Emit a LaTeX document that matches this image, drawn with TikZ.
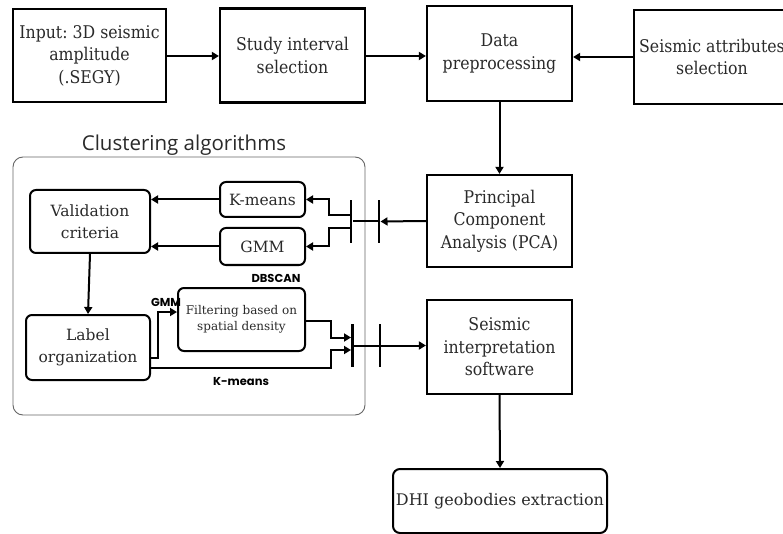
\documentclass[tikz,border=0pt]{standalone}
\usepackage{fontspec}
\setmainfont{DejaVu Serif}
\newfontfamily\condserif[FakeStretch=0.9]{DejaVu Serif}
\newfontfamily\popfont{Poppins}
\newfontfamily\osans{Open Sans}
\usetikzlibrary{arrows.meta}
\definecolor{txt}{HTML}{2A2A2A}
\frenchspacing
\tikzset{
  mainbox/.style={draw=black, line width=2.2pt, rectangle, align=center, text=txt,
    font=\condserif\fontsize{17.5}{22.5}\selectfont, inner sep=2pt},
  roundbox/.style={draw=black, line width=2pt, rectangle, rounded corners=6pt, align=center, text=txt,
    font=\fontsize{15.5}{22}\selectfont, inner sep=2pt},
  smallbox/.style={roundbox, font=\fontsize{12}{16.5}\selectfont},
  barnode/.style={rectangle, fill=black, draw=none, inner sep=0pt, minimum width=2.6pt, minimum height=43pt},
  arr/.style={line width=2pt, -{Triangle[length=7pt,width=8pt]}},
  ln/.style={line width=2pt},
  tag/.style={font=\popfont\bfseries\fontsize{11.5}{13}\selectfont, text=black, inner sep=0pt},
}
\begin{document}
\begin{tikzpicture}[x=1pt,y=-1pt]
\clip (0,0) rectangle (783,534);
\fill[white] (0,0) rectangle (783,534);
% top row
\node[mainbox, minimum width=153pt, minimum height=93pt] (inp) at (89.5,55.5) {Input: 3D seismic\\amplitude\\(.SEGY)};
\node[mainbox, minimum width=145pt, minimum height=94pt] (study) at (292.5,55.5) {Study interval\\selection};
\node[mainbox, minimum width=145pt, minimum height=95pt] (data) at (499.5,53.5) {Data\\preprocessing};
\node[mainbox, minimum width=156pt, minimum height=94pt] (seis) at (712,57) {Seismic attributes\\selection};
\node[mainbox, minimum width=145pt, minimum height=92pt] (pca) at (499.5,221) {Principal\\Component\\Analysis (PCA)};
\node[mainbox, minimum width=145pt, minimum height=94pt] (sis) at (499.5,347) {Seismic\\interpretation\\software};
\node[roundbox, rounded corners=7pt, minimum width=214pt, minimum height=64pt, font=\fontsize{16}{20}\selectfont] (dhi) at (500,501) {DHI geobodies extraction};

% cluster group
\node[draw=black!60, line width=0.9pt, rounded corners=10pt, minimum width=352pt, minimum height=258pt, inner sep=0pt] (grp) at (189,286) {};
\node[font=\osans\fontsize{20.5}{23}\selectfont, text=txt, inner sep=0pt] (title) at (184,145) {Clustering algorithms};

\node[roundbox, minimum width=120pt, minimum height=63pt] (val) at (90,221.5) {Validation\\criteria};
\node[roundbox, minimum width=85pt, minimum height=35pt] (km) at (262.5,199.5) {K-means};
\node[roundbox, minimum width=85pt, minimum height=37pt] (gmm) at (262.5,246.5) {GMM};
\node[roundbox, minimum width=124pt, minimum height=65pt] (lab) at (88,347.5) {Label\\organization};
\node[smallbox, minimum width=127pt, minimum height=63pt] (filt) at (241.5,319.5) {Filtering based on\\spatial density};

% bars
\node[barnode] (bar1) at (351,221.5) {};
\node[barnode] (bar2) at (379,221.5) {};
\node[barnode] (bar3) at (352.5,345.5) {};
\node[barnode] (bar4) at (380,345.5) {};

% labels
\node[tag] (tdb) at (276,278) {DBSCAN};
\node[tag] (tgmm) at (166,302) {GMM};
\node[tag] (tkm) at (241,382) {K-means};

% connectors
\draw[arr] (inp.east |- 0,56) -- (study.west |- 0,56);
\draw[arr] (study.east |- 0,56) -- (data.west |- 0,56);
\draw[arr] (seis.west |- 0,57) -- (data.east |- 0,57);
\draw[arr] (data.south) -- (pca.north);
\draw[arr] (pca.west) -- (bar2.east);
\draw[ln] (bar2.west) -- (bar1.east);
\draw[arr] ([yshift=6.5pt]bar1.west) -- ++(-21,0) |- (km.east);
\draw[arr] ([yshift=-7pt]bar1.west) -- ++(-21,0) |- (gmm.east);
\draw[arr] (km.west) -- (val.east |- km.west);
\draw[arr] (gmm.west) -- (val.east |- gmm.west);
\draw[arr] (val.south) -- (lab.north);
\draw[arr] ([yshift=-10.5pt]lab.east) -- ++(7,0) |- (filt.west |- 0,312);
\draw[arr] ([yshift=-1.5pt]filt.east) -- ++(25,0) |- ([yshift=8pt]bar3.west);
\draw[arr] ([yshift=-20.5pt]lab.east) -- ++(180,0) |- ([yshift=-4.5pt]bar3.west);
\draw[arr] (bar3.east) -- (sis.west |- bar3.east);
\draw[arr] (sis.south) -- (dhi.north);
\end{tikzpicture}
\end{document}
